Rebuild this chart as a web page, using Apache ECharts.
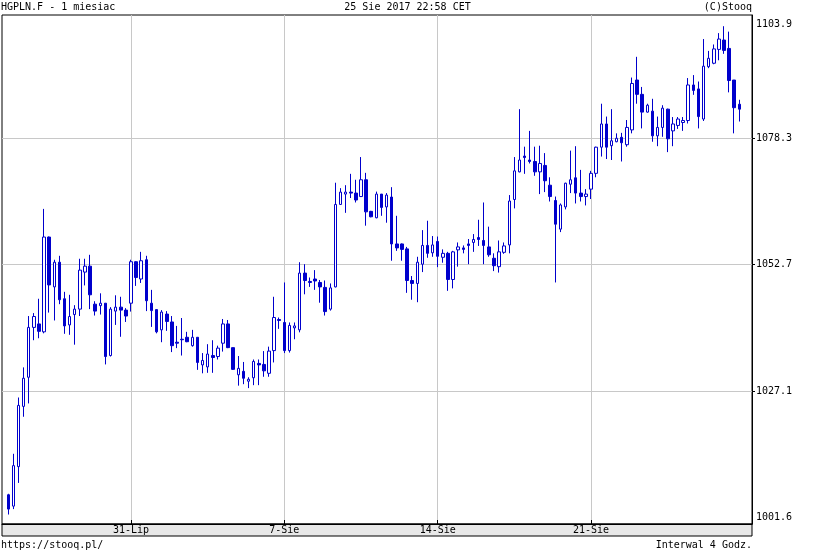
<!DOCTYPE html>
<html>
<head>
<meta charset="utf-8">
<script src="https://cdn.jsdelivr.net/npm/echarts@6/dist/echarts.min.js"></script>
<style>
html,body{margin:0;padding:0;background:#fff;}
#chart{width:815px;height:557px;}
</style>
</head>
<body>
<div id="chart"></div>
<script>
// 4-hour candles, HGPLN.F, 1 month (index 0 .. 143)
const opens = [
1006.1,1003.8,1011.8,1024.0,1029.9,1040.0,1040.7,1039.1,1058.3,1048.2,
1053.2,1045.8,1040.5,1042.6,1043.7,1051.2,1052.4,1044.7,1044.4,1044.9,
1034.3,1043.3,1044.1,1043.5,1044.9,1053.3,1049.8,1053.7,1044.9,1043.6,
1039.5,1042.7,1041.1,1037.0,1037.6,1038.0,1036.3,1038.0,1032.4,1032.0,
1034.3,1034.1,1036.8,1040.7,1035.9,1030.4,1031.1,1029.1,1029.8,1032.7,
1032.5,1030.7,1035.3,1041.6,1041.0,1035.3,1039.9,1039.5,1051.0,1049.3,
1049.8,1049.1,1048.1,1043.7,1048.2,1064.9,1067.0,1067.4,1067.2,1066.5,
1069.9,1063.5,1062.2,1067.0,1064.4,1066.4,1056.9,1056.9,1055.9,1049.5,
1048.9,1052.8,1056.6,1055.1,1057.4,1054.2,1055.0,1049.7,1055.7,1056.1,
1056.9,1057.2,1058.2,1057.6,1056.3,1054.0,1052.3,1055.2,1056.7,1065.9,
1071.5,1074.7,1073.9,1073.6,1071.5,1072.8,1068.8,1065.7,1059.9,1064.4,
1069.0,1070.3,1067.2,1066.5,1068.0,1071.2,1076.5,1081.2,1076.8,1077.6,
1078.5,1077.0,1080.0,1090.1,1087.2,1083.6,1083.8,1078.8,1080.5,1084.2,
1079.8,1080.9,1081.5,1081.9,1089.1,1088.3,1082.2,1092.8,1093.5,1096.3,
1098.2,1096.5,1090.1,1085.2
];
const closes = [
1003.2,1012.0,1024.2,1029.7,1040.0,1042.2,1039.2,1058.3,1048.6,1053.2,
1045.6,1040.3,1042.2,1043.7,1051.6,1052.4,1046.6,1043.3,1044.9,1034.1,
1043.7,1044.1,1043.5,1042.3,1053.3,1050.1,1053.5,1045.4,1043.4,1039.1,
1043.1,1041.2,1036.3,1036.8,1037.5,1037.1,1038.0,1032.9,1033.3,1034.6,
1033.9,1035.8,1040.7,1035.9,1031.5,1031.7,1029.7,1029.5,1033.1,1032.4,
1031.2,1035.2,1042.0,1041.4,1035.3,1040.4,1040.3,1051.0,1049.5,1049.1,
1049.4,1048.2,1043.2,1048.0,1064.9,1067.4,1067.4,1067.2,1065.8,1069.9,
1063.4,1062.4,1067.0,1064.3,1066.8,1056.9,1056.1,1055.8,1049.5,1048.9,
1053.2,1056.6,1055.0,1056.7,1054.4,1055.0,1049.7,1055.3,1056.3,1055.8,
1056.6,1057.8,1057.8,1056.6,1054.7,1052.5,1055.3,1056.5,1065.6,1071.7,
1073.9,1074.4,1073.6,1071.5,1073.2,1069.7,1066.5,1060.9,1064.8,1069.2,
1069.9,1067.2,1066.5,1067.0,1071.2,1076.5,1081.2,1076.5,1077.8,1078.3,
1077.4,1080.5,1089.4,1087.2,1083.6,1085.0,1078.8,1080.5,1084.4,1078.2,
1081.2,1082.2,1081.9,1089.1,1088.0,1082.7,1092.9,1094.5,1096.4,1098.4,
1096.1,1090.0,1084.5,1084.2
];
const lows = [
1002.1,1003.2,1008.5,1021.9,1024.6,1037.4,1037.8,1038.8,1043.0,1041.4,
1044.7,1038.7,1038.5,1036.5,1042.3,1048.5,1043.7,1042.4,1042.6,1032.5,
1034.1,1040.5,1038.1,1041.1,1043.2,1048.4,1049.0,1043.3,1040.1,1038.8,
1037.0,1039.3,1035.0,1035.8,1034.3,1037.0,1036.1,1031.4,1030.7,1030.8,
1030.8,1033.5,1035.1,1035.8,1031.4,1028.2,1028.5,1027.7,1028.3,1028.3,
1030.0,1030.0,1032.9,1039.7,1034.8,1034.9,1037.6,1039.0,1046.7,1048.2,
1047.6,1045.0,1042.4,1043.4,1048.1,1064.8,1063.2,1066.2,1065.3,1066.4,
1060.6,1062.3,1062.1,1062.6,1061.2,1053.5,1055.5,1053.5,1047.0,1045.6,
1045.1,1051.2,1054.1,1054.3,1052.2,1053.1,1047.4,1047.9,1052.3,1055.0,
1052.8,1055.3,1056.5,1052.8,1054.3,1051.4,1051.1,1054.9,1055.0,1064.1,
1071.4,1071.1,1073.2,1070.7,1067.0,1067.4,1065.5,1049.1,1059.3,1063.9,
1067.2,1065.1,1065.5,1064.7,1066.0,1070.4,1074.6,1074.1,1073.9,1077.5,
1073.6,1076.6,1079.3,1085.3,1080.3,1083.5,1077.6,1076.7,1078.6,1075.5,
1076.7,1080.2,1079.8,1081.3,1087.1,1080.3,1081.8,1092.5,1093.3,1094.1,
1095.4,1087.6,1079.3,1081.7
];
const highs = [
1006.3,1014.4,1025.8,1031.9,1042.3,1042.9,1045.8,1064.0,1058.4,1053.7,
1054.5,1047.2,1046.6,1044.5,1053.9,1053.9,1054.7,1045.3,1046.9,1044.9,
1044.1,1046.5,1046.2,1043.9,1053.7,1053.4,1055.3,1054.5,1047.6,1043.6,
1043.5,1043.3,1042.3,1040.3,1041.9,1039.1,1039.5,1038.0,1034.8,1036.6,
1037.4,1036.3,1041.7,1041.5,1035.9,1034.2,1033.0,1029.9,1033.5,1033.5,
1035.2,1036.1,1046.2,1042.0,1049.1,1041.0,1041.0,1053.2,1052.8,1050.1,
1051.6,1049.6,1049.5,1048.9,1069.3,1068.2,1068.8,1071.1,1069.9,1074.5,
1071.3,1063.6,1067.5,1067.0,1067.2,1068.4,1062.6,1057.0,1056.3,1050.4,
1054.3,1059.7,1061.6,1058.5,1058.4,1055.8,1055.3,1055.5,1057.2,1056.6,
1057.9,1058.9,1061.8,1065.3,1060.4,1055.0,1057.6,1057.2,1066.8,1074.5,
1084.2,1076.6,1079.8,1076.6,1076.8,1075.3,1070.4,1066.5,1065.1,1069.3,
1075.8,1076.7,1071.9,1068.0,1071.7,1076.6,1085.3,1082.7,1084.2,1079.3,
1079.4,1082.0,1090.6,1094.8,1088.7,1085.3,1086.3,1082.7,1085.0,1084.3,
1082.6,1082.6,1082.6,1090.5,1091.1,1089.8,1098.4,1096.0,1097.3,1099.6,
1101.0,1099.9,1090.1,1086.1
];
// axis tick labels
const xTickIndex = [24, 54, 84, 114];
const xTickLabels = ['31-Lip', '7-Sie', '14-Sie', '21-Sie'];
const yGridValues = [1027.1, 1052.7, 1078.3];
const yLabelValues = [1001.6, 1027.1, 1052.7, 1078.3];
const yTopLabel = '1103.9';

const yMin = 1000.18, yMax = 1103.27;
const xMin = -1.23, xMax = 145.48;

const candleData = opens.map((o, i) => [i, o, closes[i], lows[i], highs[i]]);

const FONT = '"DejaVu Sans Mono", "Liberation Mono", monospace';
const BLUE = '#0000cc';

const chart = echarts.init(document.getElementById('chart'), null, {renderer: 'canvas'});
chart.setOption({
  animation: false,
  backgroundColor: '#ffffff',
  grid: {left: 2, right: 63, top: 15, bottom: 33, show: true, borderColor: '#000', borderWidth: 1, backgroundColor: 'transparent'},
  xAxis: {
    type: 'value', min: xMin, max: xMax,
    axisLine: {show: true, onZero: false, lineStyle: {color: '#000', width: 1}},
    axisTick: {show: true, customValues: xTickIndex, inside: true, length: 4, lineStyle: {color: '#000'}},
    axisLabel: {
      customValues: xTickIndex,
      formatter: v => { const k = xTickIndex.indexOf(v); return k >= 0 ? xTickLabels[k] : ''; },
      margin: 1, color: '#000', fontFamily: FONT, fontSize: 10, lineHeight: 10
    },
    splitLine: {show: true, lineStyle: {color: '#c8c8c8', width: 1}}
  },
  yAxis: {
    type: 'value', position: 'right', min: yMin, max: yMax,
    axisLine: {show: true, onZero: false, lineStyle: {color: '#000', width: 1}},
    axisTick: {show: true, customValues: yGridValues, length: 3, lineStyle: {color: '#000'}},
    axisLabel: {
      customValues: yLabelValues.concat([yMax]),
      formatter: v => v === yMax ? '{top|' + yTopLabel + '}' : v.toFixed(1),
      margin: 4, color: '#000', fontFamily: FONT, fontSize: 10,
      rich: {top: {padding: [18, 0, 0, 0], color: '#000', fontFamily: FONT, fontSize: 10}}
    },
    splitLine: {show: true, lineStyle: {color: '#c8c8c8', width: 1}}
  },
  graphic: [
    {type: 'rect', z: -1, shape: {x: 2, y: 524, width: 750, height: 12}, style: {fill: '#e8e8e8', stroke: '#000', lineWidth: 1}},
    {type: 'text', left: 1, top: 2, style: {text: 'HGPLN.F - 1 miesiac', font: '10px ' + FONT, fill: '#000'}},
    {type: 'text', left: 'center', top: 2, style: {text: '25 Sie 2017 22:58 CET', font: '10px ' + FONT, fill: '#000'}},
    {type: 'text', right: 63, top: 2, style: {text: '(C)Stooq', font: '10px ' + FONT, fill: '#000'}},
    {type: 'text', left: 1, top: 540, style: {text: 'https://stooq.pl/', font: '10px ' + FONT, fill: '#000'}},
    {type: 'text', right: 63, top: 540, style: {text: 'Interwal 4 Godz.', font: '10px ' + FONT, fill: '#000'}}
  ],
  series: [{
    type: 'candlestick',
    data: candleData,
    encode: {x: 0, y: [1, 2, 3, 4]},
    barWidth: 3,
    itemStyle: {color: '#ffffff', color0: BLUE, borderColor: BLUE, borderColor0: BLUE, borderWidth: 1},
    emphasis: {disabled: true}
  }]
});
</script>
</body>
</html>
